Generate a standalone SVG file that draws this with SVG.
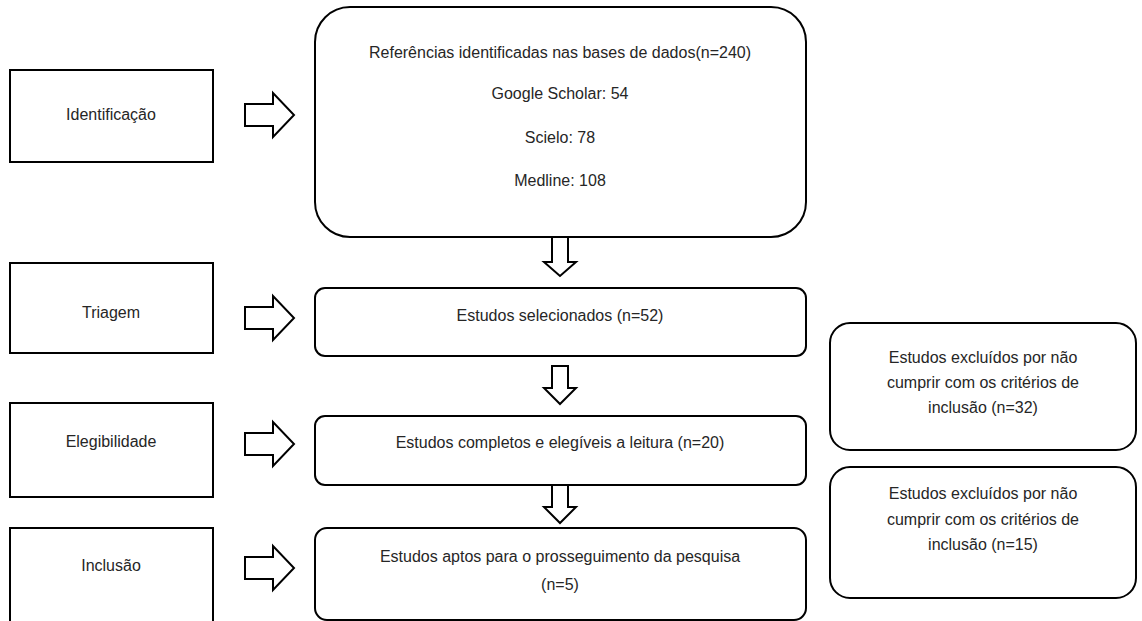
<svg xmlns="http://www.w3.org/2000/svg" width="1142" height="621" viewBox="0 0 1142 621">
<defs>
<style>
.box{fill:#fff;stroke:#000;stroke-width:2}
.arr{fill:#fff;stroke:#000;stroke-width:2;stroke-linejoin:miter}
text{font-family:"Liberation Sans",Arial,sans-serif;font-size:16px;fill:#262626;text-anchor:middle}
</style>
<path id="ra" d="M0,-11 H28 V-22 L49,0 L28,22 V11 H0 Z"/>
</defs>
<rect width="1142" height="621" fill="#fff"/>
<g id="stage-identificacao"><rect class="box" x="10" y="70" width="203" height="92"/><text x="111" y="120">Identificação</text></g>
<g id="stage-triagem"><rect class="box" x="10" y="263" width="203" height="90"/><text x="111" y="318">Triagem</text></g>
<g id="stage-elegibilidade"><rect class="box" x="10" y="403" width="203" height="94"/><text x="111" y="447">Elegibilidade</text></g>
<g id="stage-inclusao"><rect class="box" x="10" y="528" width="203" height="100"/><text x="111" y="571">Inclusão</text></g>
<g id="referencias"><rect class="box" x="315" y="7" width="491" height="230" rx="35"/>
<text x="560" y="58">Referências identificadas nas bases de dados(n=240)</text>
<text x="560" y="99">Google Scholar: 54</text>
<text x="560" y="143">Scielo: 78</text>
<text x="560" y="186">Medline: 108</text></g>
<g id="selecionados"><rect class="box" x="315" y="288" width="491" height="68" rx="10"/><text x="560" y="321">Estudos selecionados (n=52)</text></g>
<g id="completos"><rect class="box" x="315" y="416" width="491" height="69" rx="10"/><text x="560" y="448">Estudos completos e elegíveis a leitura (n=20)</text></g>
<g id="aptos"><rect class="box" x="315" y="528" width="491" height="92" rx="12"/><text x="560" y="562">Estudos aptos para o prosseguimento da pesquisa</text><text x="560" y="590">(n=5)</text></g>
<g id="excluidos-32"><rect class="box" x="830" y="323" width="306" height="127" rx="20"/><text x="983" y="363">Estudos excluídos por não</text><text x="983" y="388">cumprir com os critérios de</text><text x="983" y="413">inclusão (n=32)</text></g>
<g id="excluidos-15"><rect class="box" x="830" y="467" width="306" height="131" rx="20"/><text x="983" y="499">Estudos excluídos por não</text><text x="983" y="525">cumprir com os critérios de</text><text x="983" y="550">inclusão (n=15)</text></g>
<g id="connectors">
<use href="#ra" class="arr" x="245" y="115"/>
<use href="#ra" class="arr" x="245" y="318"/>
<use href="#ra" class="arr" x="245" y="444"/>
<use href="#ra" class="arr" x="245" y="568"/>
<path class="arr" d="M552,237 V262 H544 L560,276 L576,262 H568 V237 Z"/>
<path class="arr" d="M552,366 V388 H544 L560,404 L576,388 H568 V366 Z"/>
<path class="arr" d="M552,485 V507 H544 L560,523 L576,507 H568 V485 Z"/>
</g>
</svg>
